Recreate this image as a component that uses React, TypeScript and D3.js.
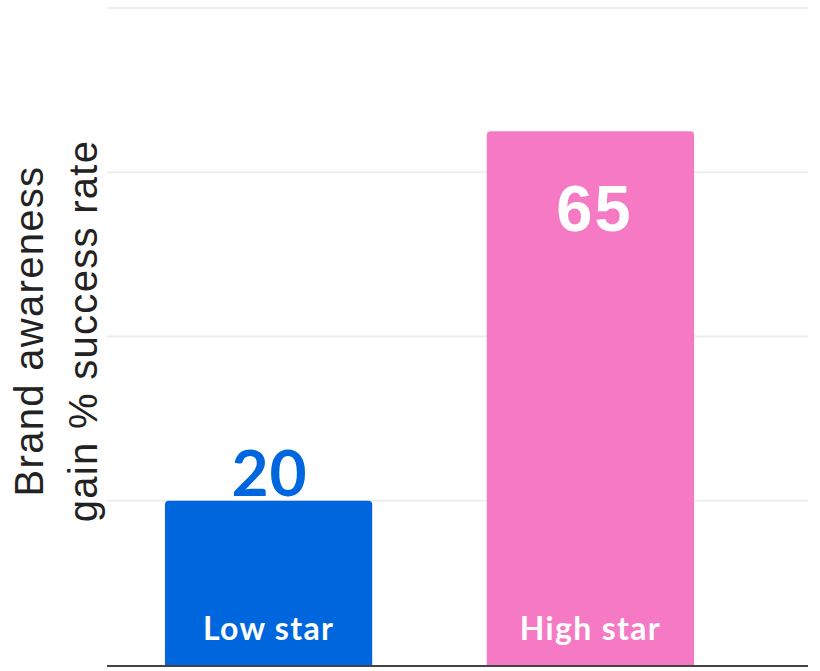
import React from "react";
import * as d3 from "d3";

const categories = ["Low star", "High star"];
const values = [20, 65];
const barColors = ["#0066DD", "#F57AC3"];
const yTicks = [20, 40, 60, 80];
const yTitleLines = ["Brand awareness", "gain % success rate"];

export default function App() {
  const W = 820, H = 671;
  const left = 107, right = 808, top = 8, bottom = 665;
  const y = d3.scaleLinear().domain([0, 80]).range([bottom, top]);
  const x = d3.scaleBand<string>().domain(categories).range([left, 752]).paddingInner(0.356).paddingOuter(0.18);
  const bw = x.bandwidth();
  const r = 4;
  const barPath = (x0: number, y0: number, w: number, h: number) => {
    const p = d3.path();
    p.moveTo(x0, y0 + h);
    p.lineTo(x0, y0 + r);
    p.quadraticCurveTo(x0, y0, x0 + r, y0);
    p.lineTo(x0 + w - r, y0);
    p.quadraticCurveTo(x0 + w, y0, x0 + w, y0 + r);
    p.lineTo(x0 + w, y0 + h);
    p.closePath();
    return p.toString();
  };
  return (
    <svg width={W} height={H} style={{ position: "absolute", left: 0, top: 0, background: "#fff" }}>
      {yTicks.map((t) => (
        <line key={t} x1={left} x2={right} y1={y(t)} y2={y(t)} stroke="#EEEEEE" strokeWidth={2} />
      ))}
      {categories.map((c, i) => {
        const x0 = x(c)!;
        const y0 = y(values[i]);
        const cx = x0 + bw / 2;
        return (
          <g key={c}>
            <path d={barPath(x0, y0, bw, bottom - y0)} fill={barColors[i]} />
            <text x={cx} y={640} textAnchor="middle" fill="#fff" fontFamily="Lato, sans-serif" fontWeight={700} fontSize={32} letterSpacing={1.3}>
              {c}
            </text>
            {i === 0 ? (
              <text x={cx + 1} y={y0 - 5} textAnchor="middle" fill={barColors[i]} fontFamily="Lato, sans-serif" fontWeight={700} fontSize={64} letterSpacing={1}>
                {values[i]}
              </text>
            ) : (
              <text x={cx + 4} y={y0 + 100} textAnchor="middle" fill="#fff" fontFamily="Liberation Sans, Arial, sans-serif" fontWeight={700} fontSize={65} letterSpacing={2}>
                {values[i]}
              </text>
            )}
          </g>
        );
      })}
      <line x1={left} x2={right} y1={bottom + 1} y2={bottom + 1} stroke="#444" strokeWidth={2} />
      {yTitleLines.map((t, i) => (
        <text
          key={t}
          transform={`translate(${43 + i * 54},331) rotate(-90)`}
          textAnchor="middle"
          fill="#222"
          fontFamily="Liberation Sans, Arial, sans-serif"
          fontSize={40}
          letterSpacing={1.3}
        >
          {t}
        </text>
      ))}
    </svg>
  );
}
